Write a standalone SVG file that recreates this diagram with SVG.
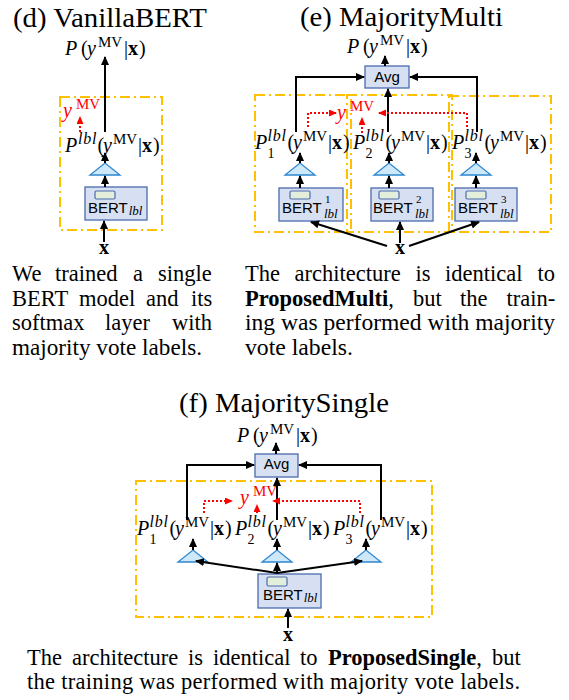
<svg xmlns="http://www.w3.org/2000/svg" width="569" height="700" viewBox="0 0 569 700">
<defs>
<marker id="ah" markerUnits="userSpaceOnUse" markerWidth="10" markerHeight="10" refX="8" refY="4" orient="auto"><path d="M0,0 L9,4 L0,8 Z" fill="#000"/></marker>
<marker id="ahr" markerUnits="userSpaceOnUse" markerWidth="9" markerHeight="9" refX="7" refY="3.5" orient="auto"><path d="M0,0 L8,3.5 L0,7 Z" fill="#FF0000"/></marker>
</defs>
<style>
.ttl{font-family:"Liberation Serif",serif;font-size:28px;fill:#000}
.cap{font-family:"Liberation Serif",serif;font-size:22.5px;fill:#000}
.m{font-family:"Liberation Serif",serif;font-size:20px;fill:#000}
.i{font-style:italic}
.b{font-weight:bold}
.s{font-size:15px}
.sl{font-size:16px;font-style:italic;letter-spacing:0.8px}
.sb{font-size:14px}
.red{fill:#FF0000}
.frame{fill:none;stroke:#FFC000;stroke-width:2;stroke-dasharray:10 4 2 4}
.box{fill:#D6E0F2;stroke:#4A6BAD;stroke-width:1.3}
.chip{fill:#E3EFDB;stroke:#4A6BAD;stroke-width:1.2}
.tri{fill:#CDE8F9;stroke:#2E86D1;stroke-width:1.3}
.bt{font-family:"Liberation Sans",sans-serif;font-size:15px;fill:#000}
.lsub{font-family:"Liberation Serif",serif;font-style:italic;font-size:13px}
.lsup{font-family:"Liberation Serif",serif;font-size:11px}
.ln{fill:none;stroke:#000;stroke-width:2;marker-end:url(#ah)}
.rd{fill:none;stroke:#FF0000;stroke-width:2;stroke-dasharray:2 2;marker-end:url(#ahr)}
</style>

<!-- ===== Panel (d) ===== -->
<g id="d-title"><text class="ttl" x="13" y="27" textLength="194" lengthAdjust="spacingAndGlyphs">(d) VanillaBERT</text></g>
<g id="d-frame"><rect class="frame" x="60" y="97" width="102" height="133"/></g>
<g id="d-out"><text class="m" y="55"><tspan x="65" class="i">P</tspan><tspan x="81">(</tspan><tspan x="87" class="i">y</tspan><tspan x="98" y="47" class="s">MV</tspan><tspan x="124" y="55">|</tspan><tspan x="128" class="b">x</tspan><tspan x="139">)</tspan></text></g>
<g id="d-ymv"><text class="m red"><tspan x="63" y="117" class="i">y</tspan><tspan x="76" y="109" class="s">MV</tspan></text></g>
<g id="d-plbl"><text class="m" y="152"><tspan x="65" class="i">P</tspan><tspan x="78" y="144" class="sl">lbl</tspan><tspan x="97.5" y="152">(</tspan><tspan x="103" class="i">y</tspan><tspan x="113" y="144" class="s">MV</tspan><tspan x="138" y="152">|</tspan><tspan x="142" class="b">x</tspan><tspan x="153">)</tspan></text></g>
<g id="d-softmax"><polygon class="tri" points="90,175 120,175 105,163"/></g>
<g id="d-bert"><rect class="box" x="85" y="187" width="62" height="33"/><rect class="chip" x="95" y="191" width="20" height="8" rx="1.5"/><text class="bt" x="88" y="213">BERT<tspan class="lsub" dx="1" dy="2">lbl</tspan></text></g>
<g id="d-x"><text class="m b" x="104" y="254" text-anchor="middle">x</text></g>
<g id="d-caption"><text class="cap"><tspan x="12" y="281">We</tspan><tspan x="55">trained</tspan><tspan x="133">a</tspan><tspan x="158">single</tspan><tspan x="12" y="306">BERT</tspan><tspan x="79">model</tspan><tspan x="146">and</tspan><tspan x="191">its</tspan><tspan x="12" y="330">softmax</tspan><tspan x="105">layer</tspan><tspan x="172">with</tspan></text><text class="cap" x="12" y="355" textLength="190" lengthAdjust="spacingAndGlyphs">majority vote labels.</text></g>

<!-- ===== Panel (e) ===== -->
<g id="e-title"><text class="ttl" x="300" y="26" textLength="203" lengthAdjust="spacingAndGlyphs">(e) MajorityMulti</text></g>
<g id="e-frames"><rect class="frame" x="255" y="95" width="96" height="137"/><rect class="frame" x="347" y="95" width="105" height="137"/><rect class="frame" x="449" y="96" width="102" height="136"/></g>
<g id="e-out"><text class="m" y="53"><tspan x="347" class="i">P</tspan><tspan x="363">(</tspan><tspan x="369" class="i">y</tspan><tspan x="380" y="45" class="s">MV</tspan><tspan x="406" y="53">|</tspan><tspan x="410" class="b">x</tspan><tspan x="421">)</tspan></text></g>
<g id="e-avg"><rect class="box" x="365" y="66" width="44" height="22"/><text class="bt" x="387" y="82" text-anchor="middle">Avg</text></g>
<g id="e-ymv"><text class="m red"><tspan x="337" y="119" class="i">y</tspan><tspan x="350" y="111" class="s">MV</tspan></text></g>
<g id="e-p1"><text class="m" y="149"><tspan x="255" class="i">P</tspan><tspan x="267.5" y="141" class="sl">lbl</tspan><tspan x="267.5" y="158" class="sb">1</tspan><tspan x="287.5" y="149">(</tspan><tspan x="293" class="i">y</tspan><tspan x="303" y="141" class="s">MV</tspan><tspan x="328" y="149">|</tspan><tspan x="332" class="b">x</tspan><tspan x="343">)</tspan></text></g>
<g id="e-p2"><text class="m" y="149"><tspan x="353" class="i">P</tspan><tspan x="365.5" y="141" class="sl">lbl</tspan><tspan x="365.5" y="158" class="sb">2</tspan><tspan x="385.5" y="149">(</tspan><tspan x="391" class="i">y</tspan><tspan x="401" y="141" class="s">MV</tspan><tspan x="426" y="149">|</tspan><tspan x="430" class="b">x</tspan><tspan x="441">)</tspan></text></g>
<g id="e-p3"><text class="m" y="149"><tspan x="452" class="i">P</tspan><tspan x="464.5" y="141" class="sl">lbl</tspan><tspan x="464.5" y="158" class="sb">3</tspan><tspan x="484.5" y="149">(</tspan><tspan x="490" class="i">y</tspan><tspan x="500" y="141" class="s">MV</tspan><tspan x="525" y="149">|</tspan><tspan x="529" class="b">x</tspan><tspan x="540">)</tspan></text></g>
<g id="e-soft1"><polygon class="tri" points="285,175 315,175 300,163"/></g>
<g id="e-soft2"><polygon class="tri" points="374,175 404,175 389,163"/></g>
<g id="e-soft3"><polygon class="tri" points="461,175 491,175 476,163"/></g>
<g id="e-bert1"><rect class="box" x="279" y="188" width="64" height="33"/><rect class="chip" x="290" y="191" width="20" height="8" rx="1.5"/><text class="bt" x="282" y="213">BERT</text><text class="lsup" x="325" y="203">1</text><text class="lsub" x="324" y="217.5">lbl</text></g>
<g id="e-bert2"><rect class="box" x="371" y="188" width="62" height="33"/><rect class="chip" x="379" y="191" width="20" height="8" rx="1.5"/><text class="bt" x="373" y="213">BERT</text><text class="lsup" x="416" y="203">2</text><text class="lsub" x="415" y="217.5">lbl</text></g>
<g id="e-bert3"><rect class="box" x="455" y="188" width="62" height="33"/><rect class="chip" x="466" y="191" width="20" height="8" rx="1.5"/><text class="bt" x="458" y="213">BERT</text><text class="lsup" x="501" y="203">3</text><text class="lsub" x="500" y="217.5">lbl</text></g>
<g id="e-x"><text class="m b" x="400" y="254" text-anchor="middle">x</text></g>
<g id="e-caption"><text class="cap"><tspan x="245" y="281">The</tspan><tspan x="294.5">architecture</tspan><tspan x="415.5">is</tspan><tspan x="445">identical</tspan><tspan x="537.5">to</tspan><tspan x="245" y="306" class="b">ProposedMulti</tspan><tspan>,</tspan><tspan x="413">but</tspan><tspan x="460">the</tspan><tspan x="506.5">train-</tspan></text><text class="cap" x="245" y="330" textLength="310" lengthAdjust="spacingAndGlyphs">ing was performed with majority</text><text class="cap" x="245" y="355" textLength="108" lengthAdjust="spacingAndGlyphs">vote labels.</text></g>

<!-- ===== Panel (f) ===== -->
<g id="f-title"><text class="ttl" x="179" y="412" textLength="210" lengthAdjust="spacingAndGlyphs">(f) MajoritySingle</text></g>
<g id="f-frame"><rect class="frame" x="136" y="481" width="296" height="136"/></g>
<g id="f-out"><text class="m" y="442"><tspan x="237" class="i">P</tspan><tspan x="253">(</tspan><tspan x="259" class="i">y</tspan><tspan x="270" y="434" class="s">MV</tspan><tspan x="296" y="442">|</tspan><tspan x="300" class="b">x</tspan><tspan x="311">)</tspan></text></g>
<g id="f-avg"><rect class="box" x="255" y="454" width="43" height="23"/><text class="bt" x="276.5" y="469" text-anchor="middle">Avg</text></g>
<g id="f-ymv"><text class="m red"><tspan x="240" y="504" class="i">y</tspan><tspan x="253" y="496" class="s">MV</tspan></text></g>
<g id="f-p1"><text class="m" y="535"><tspan x="137" class="i">P</tspan><tspan x="149.5" y="527" class="sl">lbl</tspan><tspan x="149.5" y="544" class="sb">1</tspan><tspan x="169.5" y="535">(</tspan><tspan x="175" class="i">y</tspan><tspan x="185" y="527" class="s">MV</tspan><tspan x="210" y="535">|</tspan><tspan x="214" class="b">x</tspan><tspan x="225">)</tspan></text></g>
<g id="f-p2"><text class="m" y="535"><tspan x="235" class="i">P</tspan><tspan x="247.5" y="527" class="sl">lbl</tspan><tspan x="247.5" y="544" class="sb">2</tspan><tspan x="267.5" y="535">(</tspan><tspan x="273" class="i">y</tspan><tspan x="283" y="527" class="s">MV</tspan><tspan x="308" y="535">|</tspan><tspan x="312" class="b">x</tspan><tspan x="323">)</tspan></text></g>
<g id="f-p3"><text class="m" y="535"><tspan x="333" class="i">P</tspan><tspan x="345.5" y="527" class="sl">lbl</tspan><tspan x="345.5" y="544" class="sb">3</tspan><tspan x="365.5" y="535">(</tspan><tspan x="371" class="i">y</tspan><tspan x="381" y="527" class="s">MV</tspan><tspan x="406" y="535">|</tspan><tspan x="410" class="b">x</tspan><tspan x="421">)</tspan></text></g>
<g id="f-soft1"><polygon class="tri" points="178,562 208,562 193,550"/></g>
<g id="f-soft2"><polygon class="tri" points="262,562 292,562 277,550"/></g>
<g id="f-soft3"><polygon class="tri" points="351,562 381,562 366,550"/></g>
<g id="f-bert"><rect class="box" x="258" y="574" width="63" height="34"/><rect class="chip" x="267" y="577" width="20" height="9" rx="1.5"/><text class="bt" x="263" y="600">BERT<tspan class="lsub" dx="1" dy="2">lbl</tspan></text></g>
<g id="f-x"><text class="m b" x="288" y="641" text-anchor="middle">x</text></g>
<g id="f-caption"><text class="cap"><tspan x="27" y="665">The</tspan><tspan x="72">architecture</tspan><tspan x="188">is</tspan><tspan x="213">identical</tspan><tspan x="300">to</tspan><tspan x="328" class="b">ProposedSingle</tspan><tspan>,</tspan><tspan x="492">but</tspan></text><text class="cap" x="27" y="689" textLength="493" lengthAdjust="spacing">the training was performed with majority vote labels.</text></g>

<!-- ===== Connectors ===== -->
<g id="connectors">
<path class="ln" d="M105,132 V57"/>
<path class="ln" d="M105,163 V153"/>
<path class="ln" d="M105,187 V176"/>
<path class="ln" d="M104,242 V221"/>
<path class="rd" d="M80,132 V117"/>

<path class="ln" d="M385,66 V56"/>
<path class="ln" d="M296,132 V77 H364"/>
<path class="ln" d="M477,132 V77 H410"/>
<path class="ln" d="M388,132 V89"/>
<path class="ln" d="M300,163 V153"/>
<path class="ln" d="M389,163 V153"/>
<path class="ln" d="M476,163 V153"/>
<path class="ln" d="M300,188 V176"/>
<path class="ln" d="M389,188 V176"/>
<path class="ln" d="M476,188 V176"/>
<path class="ln" d="M387,246 L311,222"/>
<path class="ln" d="M400,243 V222"/>
<path class="ln" d="M409,246 L479,222"/>
<path class="rd" d="M308,127 V113 H336"/>
<path class="rd" d="M362,133 V118"/>
<path class="rd" d="M467,127 V113 H379"/>

<path class="ln" d="M276,454 V443"/>
<path class="ln" d="M187,520 V465 H254"/>
<path class="ln" d="M381,520 V465 H299"/>
<path class="ln" d="M277,520 V478"/>
<path class="ln" d="M193,550 V539"/>
<path class="ln" d="M277,550 V539"/>
<path class="ln" d="M366,550 V539"/>
<path class="ln" d="M277,573 L196,561"/>
<path class="ln" d="M277,574 V563"/>
<path class="ln" d="M277,573 L362,561"/>
<path class="ln" d="M288,628 V609"/>
<path class="rd" d="M204,513 V501 H232"/>
<path class="rd" d="M257,513 V505"/>
<path class="rd" d="M360,513 V501 H273"/>
</g>
</svg>
